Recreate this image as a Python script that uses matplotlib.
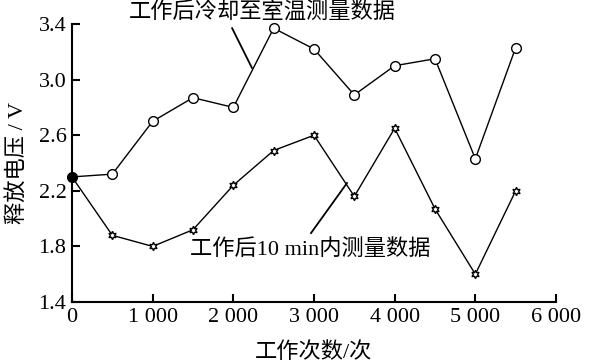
import numpy as np
import matplotlib.pyplot as plt

plt.rcParams['font.family'] = ['Liberation Serif', 'Noto Sans CJK SC']
plt.rcParams['font.size'] = 16

################################################################
cycles = [0, 500, 1000, 1500, 2000, 2500, 3000, 3500, 4000, 4500, 5000, 5500]
v_cooled = [2.30, 2.32, 2.70, 2.87, 2.80, 3.37, 3.22, 2.89, 3.10, 3.15, 2.43, 3.23]
v_10min = [2.30, 1.88, 1.80, 1.92, 2.24, 2.49, 2.60, 2.16, 2.65, 2.07, 1.60, 2.20]
xticks = [0, 1000, 2000, 3000, 4000, 5000, 6000]
xticklabels = ['0', '1 000', '2 000', '3 000', '4 000', '5 000', '6 000']
yticks = [1.4, 1.8, 2.2, 2.6, 3.0, 3.4]
yticklabels = ['1.4', '1.8', '2.2', '2.6', '3.0', '3.4']
label_cooled = '工作后冷却至室温测量数据'
label_10min = '工作后10 min内测量数据'
################################################################

fig = plt.figure(figsize=(5.89, 3.64), dpi=100)
ax = fig.add_axes([0.1222, 0.1703, 0.8218, 0.7637])

ax.plot(cycles, v_cooled, color='black', lw=1.0, marker='o', ms=7,
        mfc='white', mec='black', mew=1.0, clip_on=False)
ax.plot(cycles, v_10min, color='black', lw=1.0, marker=(6, 1, 0), ms=6,
        mfc='white', mec='black', mew=1.0, clip_on=False)
ax.plot(cycles[0], v_cooled[0], 'o', color='black', ms=6, clip_on=False)

ax.set_xlim(0, 6000)
ax.set_ylim(1.4, 3.4)
ax.set_xticks(xticks)
ax.set_xticklabels(xticklabels)
ax.set_yticks(yticks)
ax.set_yticklabels(yticklabels)
ax.tick_params(direction='in', length=6, width=1.5, pad=4)

for s in ['top', 'right']:
  ax.spines[s].set_visible(False)
for s in ['left', 'bottom']:
  ax.spines[s].set_linewidth(1.5)

ax.set_xlabel('工作次数/次', labelpad=11)
ax.set_ylabel('释放电压 / V', labelpad=7)

# callout labels and leader lines
ax.text(2355, 3.475, label_cooled, ha='center', va='center', clip_on=False)
ax.plot([1985, 2230], [3.37, 3.085], color='black', lw=1.3, clip_on=False)
ax.text(2950, 1.775, label_10min, ha='center', va='center')
ax.plot([2963, 3409], [1.896, 2.256], color='black', lw=1.3)

plt.savefig('out.png', dpi=100)
